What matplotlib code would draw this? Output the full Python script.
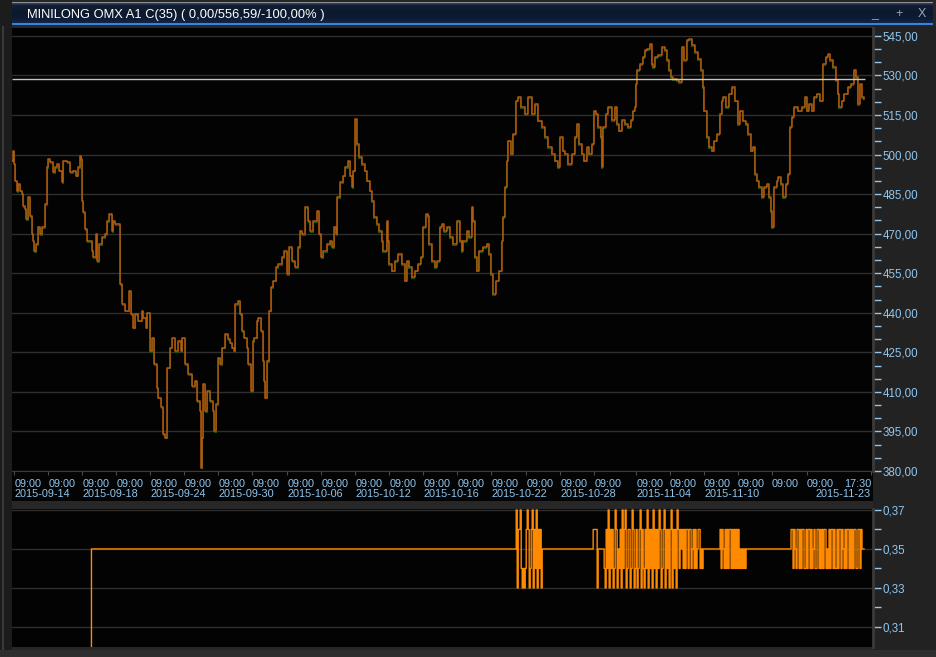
import numpy as np
import matplotlib
matplotlib.use('Agg')
import matplotlib.pyplot as plt
import matplotlib.transforms as mtransforms
from matplotlib.patches import Rectangle
from matplotlib.ticker import FixedLocator, FuncFormatter

# ─── Data
#
title = "MINILONG OMX A1 C(35) ( 0,00/556,59/-100,00% )"

# bar number (one bar ~ one pixel column) and close of the underlying
price_bar = [0, 1, 2, 3, 5, 6, 8, 10, 11, 13, 14, 16, 18, 20, 21, 22, 24, 26, 28, 30,
             33, 35, 36, 38, 41, 43, 45, 47, 50, 51, 55, 58, 61, 64, 66, 68, 69, 70, 71, 73,
             75, 80, 81, 84, 85, 87, 90, 93, 95, 97, 100, 101, 103, 107, 108, 110, 113, 117, 119, 121,
             123, 126, 130, 131, 134, 135, 138, 140, 142, 145, 146, 149, 151, 153, 155, 158, 160, 163, 166, 169,
             170, 173, 176, 180, 183, 185, 188, 189, 190, 191, 193, 195, 198, 201, 202, 204, 206, 208, 210, 213,
             216, 218,
             220, 222, 223, 226, 228, 230, 232, 235, 236, 239, 241, 242, 245, 246, 249, 251, 252, 253, 255, 257,
             259, 261, 264, 266, 270, 272, 275, 277, 280, 283, 286, 288, 290, 293, 296, 298, 301, 305, 307, 309,
             311, 315, 318, 320, 322, 324, 325, 328, 331, 333, 336, 338, 340, 341, 343, 345, 347, 350, 353, 355,
             358, 360, 362, 365, 367, 370, 371, 375, 376, 377, 380, 383, 386, 390, 393, 395, 397, 400, 403, 406,
             409, 411, 414, 416, 417, 420, 423, 425, 428, 430, 432,
             435, 438, 441, 445, 448, 450, 451, 455, 457, 460, 461, 463, 465, 467, 471, 475, 477, 479, 481, 484,
             487, 490, 491, 493, 495, 496, 499, 501, 504, 506, 509, 513, 516, 520, 523, 526, 530, 533, 536, 540,
             543, 546, 548, 551, 553, 556, 560, 563, 565, 567, 570, 572, 575, 577, 580, 582, 584, 586, 589, 590,
             591, 594, 596, 600, 603, 605, 607, 610, 613, 616, 619, 621, 623, 624, 625, 628, 631, 633, 635, 638,
             640, 641, 643, 646,
             650, 653, 655, 657, 659, 661, 665, 667, 670, 672, 675, 677, 680, 683, 686, 689, 691, 692, 695, 697,
             700, 702, 705, 708, 710, 711, 714, 717, 720, 723, 726, 728, 731, 734, 736, 739, 741, 743, 745, 747,
             750, 752, 755, 757, 759, 760, 762, 765, 766, 769, 771, 774, 776, 778, 780, 782, 786, 790, 793, 795,
             797, 800, 802, 805, 808, 811, 814, 816, 818, 821, 824, 826, 827, 830, 832, 836, 839, 842, 844, 846,
             848, 850, 852]

price = [497.7, 501.5, 496.5, 490.1, 486.0, 488.9, 486.3, 485.1, 480.6, 479.4, 475.6, 483.8, 476.8, 469.9, 467.3, 463.5, 466.1, 472.4, 469.9, 472.4,
         481.3, 495.2, 498.4, 497.1, 493.3, 495.2, 496.5, 493.9, 489.5, 497.7, 497.1, 493.3, 493.9, 492.0, 495.2, 499.6, 498.4, 482.5, 478.1, 471.8,
         467.3, 463.5, 461.0, 469.9, 459.7, 466.1, 468.6, 469.9, 474.9, 477.5, 471.1, 474.9, 473.7, 473.7, 450.9, 443.3, 440.8, 448.4, 439.5, 434.4,
         439.5, 437.0, 440.8, 438.2, 434.4, 440.1, 425.6, 430.6, 420.5, 411.6, 407.8, 404.1, 393.9, 392.7, 419.2, 426.8, 430.6, 425.6, 429.4, 425.6,
         430.6, 420.5, 416.7, 412.3, 414.2, 406.6, 402.8, 381.3, 392.7, 412.9, 402.8, 410.4, 406.6, 402.8, 395.2, 405.3, 423.0, 420.5, 426.8, 431.9,
         430.0, 428.7,
         426.8, 425.6, 443.3, 444.6, 439.5, 433.2, 430.6, 426.8, 420.5, 410.4, 429.4, 430.6, 437.0, 438.2, 433.2, 421.8, 414.2, 407.8, 421.8, 440.8,
         449.6, 452.2, 457.2, 458.5, 461.0, 463.5, 454.7, 464.8, 459.7, 457.2, 464.8, 471.1, 469.9, 480.0, 474.9, 471.1, 474.9, 478.7, 469.9, 461.0,
         463.5, 466.1, 467.3, 464.8, 472.4, 469.9, 483.8, 489.5, 492.0, 495.2, 497.7, 492.0, 487.6, 493.9, 513.6, 504.1, 499.0, 496.5, 493.9, 490.1,
         486.3, 482.5, 476.2, 473.7, 471.1, 467.3, 463.5, 474.9, 467.3, 458.5, 456.0, 459.7, 462.3, 458.5, 452.2, 459.7, 457.2, 453.4, 456.0, 458.5,
         461.0, 472.4, 477.5, 476.8, 466.1, 459.7, 457.2, 459.7, 472.4, 473.7, 471.1,
         472.4, 468.6, 466.1, 474.9, 467.3, 463.5, 467.3, 471.1, 468.6, 480.0, 474.9, 461.0, 456.0, 463.5, 464.8, 466.1, 462.3, 454.7, 447.1, 452.2,
         456.0, 467.3, 476.2, 487.6, 497.7, 505.3, 500.3, 507.8, 520.5, 521.8, 518.0, 515.4, 521.8, 515.4, 519.2, 512.9, 510.4, 506.6, 502.8, 500.3,
         497.7, 495.2, 506.6, 501.5, 500.3, 496.5, 500.3, 506.6, 511.7, 504.1, 500.3, 497.7, 502.8, 500.3, 504.1, 516.7, 515.4, 510.4, 506.6, 495.2,
         510.4, 515.4, 518.0, 513.0, 518.0, 511.7, 509.1, 513.0, 511.7, 510.4, 513.0, 516.7, 518.0, 526.8, 531.9, 534.4, 537.0, 539.5, 540.1, 542.0,
         534.4, 533.2, 537.0, 537.6,
         540.8, 539.5, 535.7, 531.9, 529.4, 528.7, 528.1, 527.5, 540.8, 535.7, 543.3, 543.9, 541.4, 538.9, 536.3, 531.9, 525.6, 516.7, 506.6, 502.8,
         501.5, 505.3, 507.8, 515.4, 520.5, 521.8, 518.0, 523.1, 525.6, 520.5, 511.7, 516.7, 512.9, 511.7, 507.9, 501.5, 502.8, 492.6, 490.1, 487.6,
         483.8, 487.6, 488.9, 483.8, 478.7, 472.4, 487.6, 490.1, 491.4, 488.9, 483.8, 488.9, 492.6, 510.4, 514.2, 518.0, 516.7, 518.0, 521.8, 516.7,
         519.2, 516.7, 521.8, 523.1, 520.5, 534.4, 537.0, 538.2, 535.7, 533.2, 528.1, 523.1, 518.0, 520.5, 523.1, 525.6, 526.8, 531.9, 529.4, 519.2,
         526.8, 521.8, 521.2]

ref_level = 528.6   # light horizontal line in the price panel

# session ticks (bar of each 09:00 open, last one is the 17:30 close)
tick_bar = [2, 36, 70, 104, 138, 172, 206, 240, 275, 309, 343, 377,
            411, 445, 479, 514, 548, 582, 624, 658, 692, 726, 760, 795, 859]
tick_time = ['09:00'] * 24 + ['17:30']
tick_date = ['2015-09-14', '', '2015-09-18', '', '2015-09-24', '', '2015-09-30', '',
             '2015-10-06', '', '2015-10-12', '', '2015-10-16', '', '2015-10-22', '',
             '2015-10-28', '', '2015-11-04', '', '2015-11-10', '', '', '', '2015-11-23']

# lower panel: bid of the warrant
bid_start = 79
bid_end = 852
bid_level = 0.35
burst_start = [504, 581, 592, 675, 708, 779]
burst_vals = [
    [0.37, 0.33, 0.36, 0.36, 0.37, 0.34, 0.33, 0.34, 0.33, 0.34, 0.36, 0.37, 0.36, 0.33,
     0.34, 0.36, 0.37, 0.33, 0.36, 0.34, 0.37, 0.33, 0.36, 0.34, 0.36, 0.33, 0.35],
    [0.36, 0.36, 0.36, 0.36, 0.33, 0.35],
    [0.34, 0.33, 0.36, 0.34, 0.37, 0.33, 0.36, 0.34, 0.36, 0.33, 0.34, 0.37, 0.36, 0.33,
     0.35, 0.34, 0.36, 0.33, 0.37, 0.34, 0.36, 0.37, 0.33, 0.34, 0.36, 0.36, 0.33, 0.34,
     0.37, 0.36, 0.33, 0.34, 0.36, 0.33, 0.34, 0.36, 0.37, 0.33, 0.36, 0.34, 0.33, 0.36,
     0.34, 0.37, 0.33, 0.36, 0.34, 0.36, 0.33, 0.37, 0.34, 0.36, 0.33, 0.36, 0.34, 0.37,
     0.36, 0.33, 0.34, 0.36, 0.37, 0.33, 0.36, 0.34, 0.36, 0.33, 0.36, 0.37, 0.33, 0.36,
     0.34, 0.36, 0.33, 0.37, 0.36, 0.34, 0.36, 0.35, 0.36, 0.34, 0.36, 0.34, 0.36, 0.34],
    [0.36, 0.34, 0.36, 0.36, 0.34, 0.35, 0.36, 0.34, 0.36, 0.34, 0.35, 0.36, 0.36, 0.34,
     0.35, 0.34, 0.35],
    [0.36, 0.34, 0.36, 0.35, 0.34, 0.36, 0.34, 0.36, 0.34, 0.36, 0.36, 0.34, 0.36, 0.34,
     0.36, 0.34, 0.36, 0.34, 0.36, 0.34, 0.35, 0.34, 0.35, 0.34, 0.35, 0.34, 0.35, 0.35],
    [0.36, 0.36, 0.34, 0.36, 0.35, 0.34, 0.36, 0.36, 0.34, 0.36, 0.34, 0.36, 0.36, 0.34,
     0.34, 0.36, 0.34, 0.36, 0.36, 0.34, 0.36, 0.34, 0.35, 0.36, 0.34, 0.34, 0.36, 0.36,
     0.34, 0.36, 0.34, 0.36, 0.34, 0.36, 0.36, 0.34, 0.35, 0.34, 0.36, 0.34, 0.36, 0.36,
     0.34, 0.36, 0.34, 0.34, 0.36, 0.34, 0.36, 0.36, 0.34, 0.36, 0.35, 0.34, 0.36, 0.34,
     0.36, 0.36, 0.34, 0.36, 0.34, 0.36, 0.34, 0.36, 0.36, 0.34, 0.34, 0.36, 0.36, 0.34,
     0.36, 0.35],
]

# ─── Layout helpers (pixel boxes measured from the top-left)
#
W, H = 936, 657
FONT = 'Liberation Sans'
LABEL_COLOR = '#8ec6f0'

def px_rect(x0, y0, x1, y1):
    return [x0 / W, 1 - y1 / H, (x1 - x0) / W, (y1 - y0) / H]

def add_box(fig, x0, y0, x1, y1, color):
    r = px_rect(x0, y0, x1, y1)
    fig.patches.append(Rectangle((r[0], r[1]), r[2], r[3], transform=fig.transFigure,
                                 facecolor=color, edgecolor='none', zorder=-5))

def comma_fmt(v, _):
    return f'{v:.2f}'.replace('.', ',')

fig = plt.figure(figsize=(W / 100, H / 100), dpi=100, facecolor='#272727')

# frame pieces
add_box(fig, 0, 0, 12, H, '#1c1c1c')
add_box(fig, 2, 26, 4, H - 4, '#3a3a3a')
add_box(fig, 873, 26, W, 650, '#222222')
add_box(fig, 12, 471, 873, 501, '#040404')
add_box(fig, 0, 650, W, H, '#2e2e2e')

# ─── Title bar
#
tb = fig.add_axes(px_rect(12, 2, 933, 25))
grad = np.array([[0.55, 0.57, 0.60], [0.20, 0.25, 0.32], [0.07, 0.12, 0.20], [0.05, 0.10, 0.18],
                 [0.05, 0.11, 0.21], [0.07, 0.15, 0.27], [0.20, 0.52, 0.88]])
rows = np.array([0, 1, 3, 10, 16, 20, 21])
yy = np.arange(23)
img = np.stack([np.interp(yy, rows, grad[:, c]) for c in range(3)], axis=1)[:, None, :]
tb.imshow(img, aspect='auto', extent=(0, 1, 1, 0))
tb.set_axis_off()
fig.text(27 / W, 1 - 15 / H, title, color='white', fontsize=9.3, family=FONT, va='center')
for xc, s in [(875, '_'), (899, '+'), (922, 'X')]:
    fig.text(xc / W, 1 - 14 / H, s, color='#9aa4ae', fontsize=9, family=FONT,
             va='center', ha='center')

# ─── Price panel
#
ax = fig.add_axes(px_rect(12, 28, 873, 471), facecolor='#030303')
shift = mtransforms.offset_copy(ax.transData, fig=fig, x=-0.8, y=-0.8, units='dots')
ax.step(price_bar, price, where='post', color='#165216', lw=0.8, transform=shift)
ax.step(price_bar, price, where='post', color='#b65a0c', lw=1.1)
ax.hlines(ref_level, 0, price_bar[-1] + 1, color='#c4c4c4', lw=1)

ax.set_xlim(-0.5, 861)
ax.set_ylim(380, 548.0)
ax.yaxis.tick_right()
ax.yaxis.set_major_locator(FixedLocator(np.arange(380, 546, 15)))
ax.yaxis.set_minor_locator(FixedLocator(np.arange(380, 548, 5)))
ax.yaxis.set_major_formatter(FuncFormatter(comma_fmt))
ax.yaxis.grid(True, color='#2e2e2e', lw=1)
ax.set_axisbelow(True)
ax.tick_params(axis='y', which='both', colors=LABEL_COLOR, length=6, width=1, pad=1,
               labelsize=8.3)
for lab in ax.get_yticklabels():
    lab.set_family(FONT)

# time row as tick labels, date row as a second line of texts below
ax.set_xticks(tick_bar)
ax.set_xticklabels(tick_time, family=FONT, fontsize=7.8, color=LABEL_COLOR)
ax.tick_params(axis='x', color='#4a4a4a', length=3, pad=3)
last = len(tick_bar) - 1
for i, lab in enumerate(ax.get_xticklabels()):
    lab.set_ha('right' if i == last else 'left')
date_tr = mtransforms.blended_transform_factory(ax.transData, ax.transAxes)
for i, (b, d) in enumerate(zip(tick_bar, tick_date)):
    if d:
        ax.text(b, -18 / 443, d, transform=date_tr, family=FONT, fontsize=7.8,
                color=LABEL_COLOR, ha='right' if i == last else 'left', va='top',
                clip_on=False)

for side in ['top', 'left']:
    ax.spines[side].set_visible(False)
ax.spines['bottom'].set_color('#3a3a3a')
ax.spines['right'].set_color('#3a3a3a')
ax.spines['right'].set_linewidth(2)

# ─── Bid panel
#
bid_t = [bid_start]
bid_v = [0.0]
bursts = dict()
for s, vals in zip(burst_start, burst_vals):
    for k, v in enumerate(vals):
        bursts[s + k] = v
for b in range(bid_start, bid_end + 1):
    bid_t.append(b)
    bid_v.append(bursts.get(b, bid_level))

ax2 = fig.add_axes(px_rect(12, 509, 873, 647), facecolor='#030303')
ax2.step(bid_t, bid_v, where='post', color='#ff8a00', lw=1.0)
ax2.set_xlim(-0.5, 861)
ax2.set_ylim(0.2997, 0.3705)
ax2.yaxis.tick_right()
ax2.yaxis.set_major_locator(FixedLocator([0.31, 0.33, 0.35, 0.37]))
ax2.yaxis.set_minor_locator(FixedLocator([0.32, 0.34, 0.36]))
ax2.yaxis.set_major_formatter(FuncFormatter(comma_fmt))
ax2.yaxis.grid(True, color='#2e2e2e', lw=1)
ax2.set_axisbelow(True)
ax2.tick_params(axis='y', which='both', colors=LABEL_COLOR, length=6, width=1, pad=1,
                labelsize=8.3)
for lab in ax2.get_yticklabels():
    lab.set_family(FONT)
ax2.set_xticks([])
for side in ['top', 'left', 'bottom']:
    ax2.spines[side].set_visible(False)
ax2.spines['right'].set_color('#3a3a3a')
ax2.spines['right'].set_linewidth(2)

fig.savefig('out.png', dpi=100, facecolor=fig.get_facecolor())
plt.close(fig)
